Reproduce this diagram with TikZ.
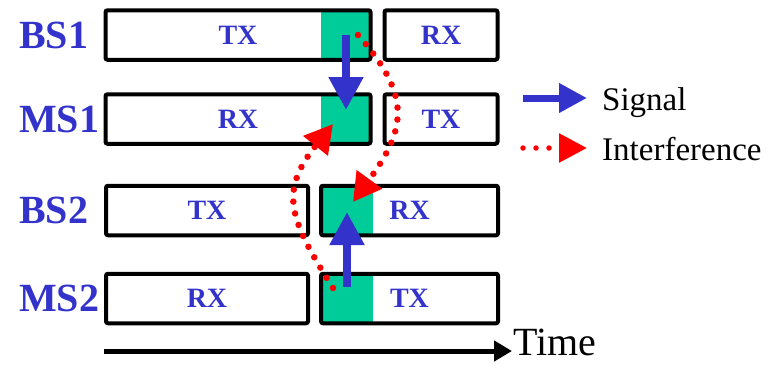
\documentclass[tikz,border=0pt]{standalone}
\usepackage{fontspec}
\setmainfont{Liberation Serif}
\usetikzlibrary{arrows.meta}
\definecolor{slotblue}{HTML}{3333CC}
\definecolor{slotgreen}{HTML}{00CC99}
\definecolor{intred}{HTML}{FF0000}

\begin{document}
\begin{tikzpicture}[x=1pt, y=-1pt,
    every node/.style={inner sep=0pt},
    rowlabel/.style={anchor=west, font=\fontsize{40}{40}\selectfont\bfseries, text=slotblue},
    slot/.style={draw, line width=4pt, rounded corners=2pt, minimum height=49.5pt,
        font=\fontsize{28}{28}\selectfont\bfseries, text=slotblue},
    legendtext/.style={anchor=base west, font=\fontsize{33}{33}\selectfont},
    signal/.style={slotblue, line width=8pt, -{Triangle[length=33pt,width=33pt]}},
    interf/.style={intred, line width=6.5pt, line cap=round, dash pattern=on 0pt off 12pt,
        -{Triangle[length=28pt,width=30pt]}}]
    \useasboundingbox (0,0) rectangle (773,365);

    % Row labels
    \foreach \n/\y in {BS1/35, MS1/119, BS2/210.5, MS2/298.5} {
        \node[rowlabel] (\n) at (19,\y) {\n};
    }

    % Green guard parts (under the frames)
    \foreach \y in {35, 119} {
        \fill[slotgreen] (321,\y-24.75) rectangle (370.5,\y+24.75);
    }
    \foreach \y in {210.5, 298.5} {
        \fill[slotgreen] (321,\y-24.75) rectangle (373,\y+24.75);
    }

    % Slots
    \node[slot, minimum width=265pt] (bs1tx) at (238,35) {TX};
    \node[slot, minimum width=113pt] (bs1rx) at (441,35) {RX};
    \node[slot, minimum width=265pt] (ms1rx) at (238,119) {RX};
    \node[slot, minimum width=113pt] (ms1tx) at (441,119) {TX};
    \node[slot, minimum width=202pt] (bs2tx) at (207,210.5) {TX};
    \node[slot, minimum width=177pt] (bs2rx) at (409.5,210.5) {RX};
    \node[slot, minimum width=202pt] (ms2rx) at (207,298.5) {RX};
    \node[slot, minimum width=177pt] (ms2tx) at (409.5,298.5) {TX};

    % Signal arrows
    \coordinate (sig1a) at (346,35);
    \coordinate (sig1b) at (346,110);
    \coordinate (sig2a) at (347,287);
    \coordinate (sig2b) at (347,212);
    \draw[signal] (sig1a) -- (sig1b);
    \draw[signal] (sig2a) -- (sig2b);

    % Interference
    \coordinate (int1a) at (358,35);
    \coordinate (int1b) at (353,202);
    \coordinate (int2a) at (333,288);
    \coordinate (int2b) at (333,124);
    \draw[interf] (int1a) .. controls (413.5,97.5) and (405,130.5) .. (int1b);
    \draw[interf] (int2a) .. controls (288.3,217.8) and (279,191.5) .. (int2b);

    % Legend
    \coordinate (lg1a) at (523,98);
    \coordinate (lg1b) at (587,98);
    \coordinate (lg2a) at (523,148);
    \coordinate (lg2b) at (587,148);
    \draw[signal, line width=7pt, -{Triangle[length=28pt,width=28pt]}] (lg1a) -- (lg1b);
    \draw[interf, line width=5.5pt, dash pattern=on 0pt off 13pt,
        -{Triangle[length=28pt,width=28pt]}] (lg2a) -- (lg2b);
    \node[legendtext] (sigtext) at (602,110) {Signal};
    \node[legendtext] (inttext) at (602,160) {Interference};

    % Time axis
    \coordinate (t0) at (104,351);
    \coordinate (t1) at (512,351);
    \draw[line width=5pt, -{Triangle[length=18pt,width=20pt]}] (t0) -- (t1);
    \node[anchor=base west, font=\fontsize{40}{40}\selectfont] (time) at (513,355) {Time};
\end{tikzpicture}
\end{document}
